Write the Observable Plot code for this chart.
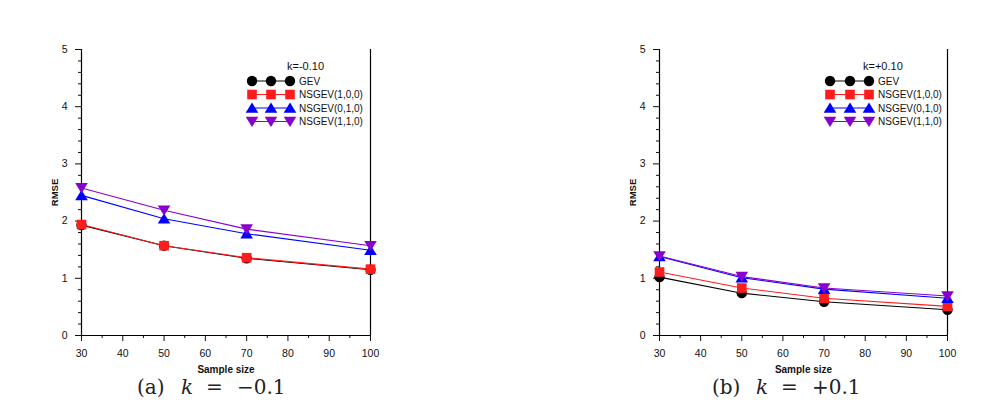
<!DOCTYPE html>
<html><head><meta charset="utf-8">
<script src="https://cdn.jsdelivr.net/npm/d3@7"></script>
<script src="https://cdn.jsdelivr.net/npm/@observablehq/plot@0.6"></script>
<style>
body{margin:0;background:#fff;font-family:"Liberation Sans",Arial,sans-serif;}
#wrap{position:relative;width:1001px;height:409px;overflow:hidden;background:#fff;}
.panel{position:absolute;top:0;}
.cap{position:absolute;top:374px;font-family:"DejaVu Serif","Liberation Serif",serif;font-size:20px;white-space:pre;color:#222;line-height:26px;}
.cap.it{font-style:italic;}
#overlay{position:absolute;left:0;top:0;pointer-events:none;}
</style></head><body><div id="wrap"></div>
<script>
// ---------- data ----------
const sampleSizes = [30, 50, 70, 100];
const seriesNames = ["GEV", "NSGEV(1,0,0)", "NSGEV(0,1,0)", "NSGEV(1,1,0)"];
const seriesColors = ["#000000", "#ff1c1c", "#0000ff", "#8a00cc"];

// panel (a) k = -0.10
const gevA    = [1.93, 1.57, 1.35, 1.15];
const ns100A  = [1.94, 1.57, 1.36, 1.16];
const ns010A  = [2.45, 2.04, 1.78, 1.49];
const ns110A  = [2.58, 2.19, 1.86, 1.57];
// panel (b) k = +0.10
const gevB    = [1.02, 0.74, 0.59, 0.45];
const ns100B  = [1.11, 0.83, 0.65, 0.51];
const ns010B  = [1.38, 1.01, 0.81, 0.65];
const ns110B  = [1.39, 1.03, 0.83, 0.69];

const xDomain = [30, 100];
const yDomain = [0, 5];
const xTicks = [30, 40, 50, 60, 70, 80, 90, 100];
const xMinor = [35, 45, 55, 65, 75, 85, 95];
const yTicks = [0, 1, 2, 3, 4, 5];
const yMinor = [0.2,0.4,0.6,0.8,1.2,1.4,1.6,1.8,2.2,2.4,2.6,2.8,3.2,3.4,3.6,3.8,4.2,4.4,4.6,4.8];
const legendTitles = ["k=-0.10", "k=+0.10"];
const captions = [["(a)", "k", "=", "\u22120.1"], ["(b)", "k", "=", "+0.1"]];

// ---------- symbols ----------
const symCircle = {draw(c){ const r = 5.2; c.moveTo(r,0); c.arc(0,0,r,0,2*Math.PI); c.closePath(); }};
const symSquare = {draw(c){ const h = 4.8; c.rect(-h,-h,2*h,2*h); }};
const symUp = {draw(c){ c.moveTo(0,-5.6); c.lineTo(6.3,4.8); c.lineTo(-6.3,4.8); c.closePath(); }};
const symDown = {draw(c){ c.moveTo(0,5.6); c.lineTo(6.3,-4.8); c.lineTo(-6.3,-4.8); c.closePath(); }};
const seriesSymbols = [symCircle, symSquare, symUp, symDown];

function toRows(arrs){
  const rows = [];
  arrs.forEach((vals, i) => vals.forEach((v, j) => rows.push({series: seriesNames[i], idx: i, n: sampleSizes[j], rmse: v})));
  return rows;
}

function panel(arrs, marginLeft, marginRight){
  const rows = toRows(arrs);
  const marks = [
    Plot.axisX({ticks: xTicks, tickSize: 6, tickPadding: 8, label: null, fontSize: 10.5, tickFormat: d3.format("d")}),
    Plot.axisX({ticks: xMinor, tickSize: 3, text: null, label: null}),
    Plot.axisY({ticks: yTicks, tickSize: 6, tickPadding: 8, label: null, fontSize: 10.5, tickFormat: d3.format("d")}),
    Plot.axisY({ticks: yMinor, tickSize: 3, text: null, label: null}),
    Plot.ruleX(xDomain, {stroke: "#000", strokeWidth: 1.2}),
    Plot.ruleY([yDomain[0]], {stroke: "#000", strokeWidth: 1.2}),
    Plot.text(["RMSE"], {text: d => d, frameAnchor: "left", textAnchor: "middle", lineAnchor: "middle", rotate: -90, dx: -27, fontWeight: "bold", fontSize: 9.5, fill: "#111"}),
    Plot.text(["Sample size"], {text: d => d, frameAnchor: "bottom", textAnchor: "middle", lineAnchor: "middle", dy: 34, fontWeight: "bold", fontSize: 10, fill: "#111"})
  ];
  seriesNames.forEach((name, i) => {
    const d = rows.filter(r => r.idx === i);
    marks.push(Plot.line(d, {x: "n", y: "rmse", stroke: seriesColors[i], strokeWidth: 1.1}));
    marks.push(Plot.dot(d, {x: "n", y: "rmse", symbol: seriesSymbols[i], r: 5, fill: seriesColors[i], stroke: "none"}));
  });
  return Plot.plot({
    width: 500, height: 375,
    marginLeft, marginRight, marginTop: 49, marginBottom: 40,
    x: {domain: xDomain},
    y: {domain: yDomain},
    style: {fontFamily: "Liberation Sans, Arial, sans-serif", color: "#111", background: "transparent", overflow: "visible"},
    marks
  });
}

const wrap = document.getElementById("wrap");
const pA = panel([gevA, ns100A, ns010A, ns110A], 81, 130);
pA.classList.add("panel"); pA.style.left = "0px";
wrap.appendChild(pA);
const pB = panel([gevB, ns100B, ns010B, ns110B], 159, 53);
pB.classList.add("panel"); pB.style.left = "500px";
wrap.appendChild(pB);

// ---------- legends ----------
const ov = d3.select(wrap).append("svg").attr("id", "overlay").attr("width", 1001).attr("height", 409);
const legendSpecs = [
  {title: legendTitles[0], titleX: 287, mx: [252, 271, 290], tx: 299},
  {title: legendTitles[1], titleX: 863, mx: [830, 850, 869], tx: 878}
];
const rowY = [81, 94.5, 108, 121.5];
legendSpecs.forEach(spec => {
  ov.append("text").attr("x", spec.titleX).attr("y", 66).attr("dy", "0.35em")
    .attr("font-size", 11).attr("font-family", "Liberation Sans, Arial").attr("fill", "#111").text(spec.title);
  seriesNames.forEach((name, i) => {
    const y = rowY[i];
    ov.append("line").attr("x1", spec.mx[0]).attr("x2", spec.mx[2]).attr("y1", y).attr("y2", y)
      .attr("stroke", seriesColors[i]).attr("stroke-width", 1.1);
    spec.mx.forEach(x => {
      ov.append("path").attr("transform", `translate(${x},${y})`)
        .attr("d", d3.symbol().type(seriesSymbols[i])()).attr("fill", seriesColors[i]);
    });
    ov.append("text").attr("x", spec.tx).attr("y", y).attr("dy", "0.35em")
      .attr("font-size", 10).attr("font-family", "Liberation Sans, Arial").attr("fill", "#111").text(name);
  });
});

// ---------- captions ----------
const capLefts = [137, 712];
const capOffsets = [0, 44, 69, 100];
captions.forEach((parts, i) => {
  parts.forEach((p, j) => {
    const s = document.createElement("div");
    s.className = "cap" + (j === 1 ? " it" : "");
    s.style.left = (capLefts[i] + capOffsets[j]) + "px";
    s.textContent = p;
    wrap.appendChild(s);
  });
});
</script></body></html>
